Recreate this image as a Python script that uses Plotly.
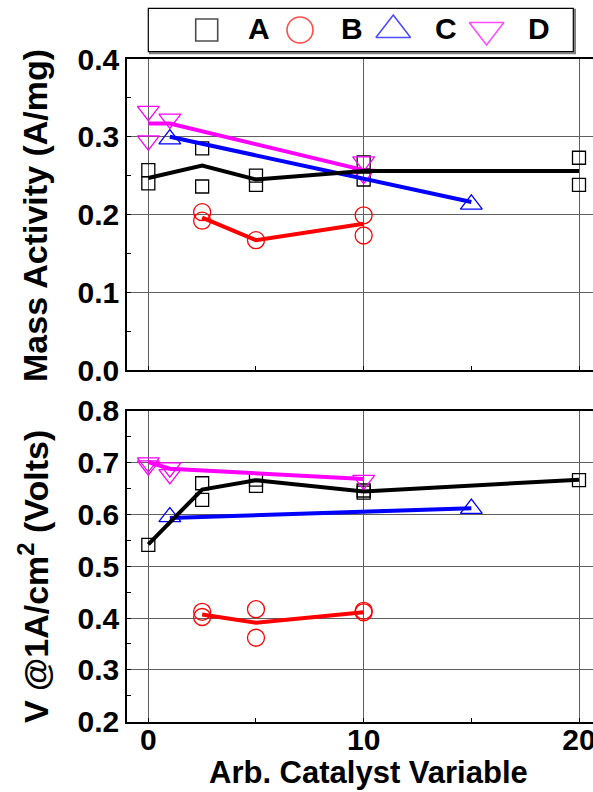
import plotly.graph_objects as go

# ---- series styling ----
series = ["A", "B", "C", "D"]
colors = ["#000000", "#ff0000", "#0000ff", "#ff00ff"]
symbols = ["square-open", "circle-open", "triangle-up-open", "triangle-down-open"]
plot_sizes = [13, 17, 19, 19]
legend_sizes = [22, 26, 30, 30]

# ---- Mass activity (A/mg): replicate points ----
ma_A_x = [0, 0, 2.5, 2.5, 5, 5, 10, 10, 20, 20]
ma_A_y = [0.257, 0.240, 0.285, 0.236, 0.250, 0.238, 0.267, 0.245, 0.273, 0.238]
ma_B_x = [2.5, 2.5, 5, 10, 10]
ma_B_y = [0.203, 0.192, 0.167, 0.199, 0.173]
ma_C_x = [1, 15]
ma_C_y = [0.297, 0.213]
ma_D_x = [0, 0, 1, 10, 10]
ma_D_y = [0.333, 0.295, 0.323, 0.268, 0.252]

# ---- Mass activity: mean trend lines ----
ma_A_line_x = [0, 2.5, 5, 10, 20]
ma_A_line_y = [0.247, 0.263, 0.245, 0.256, 0.256]
ma_B_line_x = [2.5, 5, 10]
ma_B_line_y = [0.196, 0.167, 0.188]
ma_C_line_x = [1, 15]
ma_C_line_y = [0.300, 0.216]
ma_D_line_x = [0, 1, 10]
ma_D_line_y = [0.317, 0.317, 0.257]

# ---- Cell voltage at 1 A/cm2 (V): replicate points ----
v_A_x = [0, 2.5, 2.5, 5, 5, 10, 10, 20]
v_A_y = [0.541, 0.660, 0.628, 0.667, 0.655, 0.646, 0.642, 0.666]
v_B_x = [2.5, 2.5, 5, 5, 10, 10]
v_B_y = [0.412, 0.402, 0.417, 0.362, 0.414, 0.411]
v_C_x = [1, 15]
v_C_y = [0.595, 0.611]
v_D_x = [0, 0, 1, 1, 10]
v_D_y = [0.700, 0.694, 0.690, 0.677, 0.666]

# ---- Cell voltage: mean trend lines ----
v_A_line_x = [0, 2.5, 5, 10, 20]
v_A_line_y = [0.542, 0.648, 0.666, 0.644, 0.667]
v_B_line_x = [2.5, 5, 10]
v_B_line_y = [0.407, 0.391, 0.411]
v_C_line_x = [1, 15]
v_C_line_y = [0.593, 0.612]
v_D_line_x = [0, 1, 10]
v_D_line_y = [0.701, 0.688, 0.668]

# ---- axis ticks ----
x_ticks = [0, 10, 20]
ma_ticks = [0.0, 0.1, 0.2, 0.3, 0.4]
v_ticks = [0.2, 0.3, 0.4, 0.5, 0.6, 0.7, 0.8]

FONT = "Liberation Sans, Arial, sans-serif"
W, H = 593, 792

panels = [
    ("x", "y",
     [(ma_A_x, ma_A_y), (ma_B_x, ma_B_y), (ma_C_x, ma_C_y), (ma_D_x, ma_D_y)],
     [(ma_A_line_x, ma_A_line_y), (ma_B_line_x, ma_B_line_y),
      (ma_C_line_x, ma_C_line_y), (ma_D_line_x, ma_D_line_y)]),
    ("x2", "y2",
     [(v_A_x, v_A_y), (v_B_x, v_B_y), (v_C_x, v_C_y), (v_D_x, v_D_y)],
     [(v_A_line_x, v_A_line_y), (v_B_line_x, v_B_line_y),
      (v_C_line_x, v_C_line_y), (v_D_line_x, v_D_line_y)]),
]

fig = go.Figure()

for xa, ya, pts, lines in panels:
    for i, (px, py) in enumerate(pts):
        fig.add_trace(go.Scatter(
            x=px, y=py, xaxis=xa, yaxis=ya, mode="markers", showlegend=False,
            marker=dict(symbol=symbols[i], size=plot_sizes[i], color=colors[i],
                        line=dict(width=1.3, color=colors[i])),
        ))
    for i in [3, 2, 1, 0]:
        lx, ly = lines[i]
        fig.add_trace(go.Scatter(
            x=lx, y=ly, xaxis=xa, yaxis=ya, mode="lines", showlegend=False,
            line=dict(color=colors[i], width=4),
        ))

# legend box drawn on its own hidden axes
fig.add_trace(go.Scatter(
    x=list(range(len(series))), y=[0.5] * len(series), xaxis="x3", yaxis="y3",
    mode="markers", showlegend=False, hoverinfo="skip",
    marker=dict(symbol=symbols, size=legend_sizes, color=colors,
                line=dict(width=1.6, color=colors)),
))

x_dom = [127 / W, 1.0]
x_range = [-0.99, 20.65]
grid = "#606060"

common_x = dict(range=x_range, domain=x_dom, showline=True, linecolor="black",
                linewidth=1.5, mirror=True, showgrid=True, gridcolor=grid,
                gridwidth=1, zeroline=False, tickvals=x_ticks, automargin=False,
                ticks="inside", ticklen=4, tickcolor="black",
                minor=dict(dtick=5, ticks="inside", ticklen=4, tickcolor="black",
                           showgrid=False),
                tickfont=dict(family=FONT, size=30, color="black", weight="bold"))

common_y = dict(showline=True, linecolor="black", linewidth=1.5, mirror=True,
                showgrid=True, gridcolor=grid, gridwidth=1, zeroline=False,
                automargin=False,
                ticks="inside", ticklen=4, tickcolor="black", tickformat=".1f",
                minor=dict(dtick=0.05, ticks="inside", ticklen=4, tickcolor="black",
                           showgrid=False),
                tickfont=dict(family=FONT, size=30, color="black", weight="bold"))

fig.update_layout(
    width=W, height=H,
    margin=dict(l=0, r=0, t=0, b=0, autoexpand=False),
    paper_bgcolor="white", plot_bgcolor="white",
    showlegend=False,
    xaxis=dict(common_x, anchor="y", showticklabels=False),
    yaxis=dict(common_y, anchor="x", range=[0, 0.4], tickvals=ma_ticks,
               domain=[1 - 370 / H, 1 - 59 / H]),
    xaxis2=dict(common_x, anchor="y2", ticklabeloverflow="allow",
                ticklabelstandoff=-9),
    yaxis2=dict(common_y, anchor="x2", range=[0.2, 0.8], tickvals=v_ticks,
                domain=[1 - 721.7 / H, 1 - 410.7 / H]),
    xaxis3=dict(domain=[148.3 / W, 573.3 / W], range=[-0.626, 3.93], visible=False,
                anchor="y3", fixedrange=True, automargin=False),
    yaxis3=dict(domain=[1 - 51.7 / H, 1 - 8.3 / H], range=[0, 1], visible=False,
                anchor="x3", fixedrange=True, automargin=False),
)

# legend frame with a soft grey drop shadow on its lower/right edges
fig.add_shape(type="rect", xref="x3 domain", yref="y3 domain",
              x0=0.004, x1=1.004, y0=-0.035, y1=0.965,
              line=dict(color="#808080", width=2), fillcolor="rgba(0,0,0,0)", layer="below")
fig.add_shape(type="rect", xref="x3 domain", yref="y3 domain", x0=0, x1=1, y0=0, y1=1,
              line=dict(color="black", width=1.2), fillcolor="white", layer="below")

for i, name in enumerate(series):
    fig.add_annotation(x=i + 0.56, y=0.53, xref="x3", yref="y3", text=name,
                       showarrow=False, xanchor="center", yanchor="middle",
                       font=dict(family=FONT, size=30, color="black", weight="bold"))

ytitle_font = dict(family=FONT, size=34, color="black", weight="bold")
xtitle_font = dict(family=FONT, size=31, color="black", weight="bold")
fig.add_annotation(x=35 / W, y=1 - 216 / H, xref="paper", yref="paper",
                   text="Mass Activity (A/mg)", textangle=-90, showarrow=False,
                   xanchor="center", yanchor="middle", font=ytitle_font)
fig.add_annotation(x=33 / W, y=1 - 577 / H, xref="paper", yref="paper",
                   text="V @1A/cm<sup>2</sup> (Volts)", textangle=-90, showarrow=False,
                   xanchor="center", yanchor="middle", font=ytitle_font)
fig.add_annotation(x=368 / W, y=1 - 772 / H, xref="paper", yref="paper",
                   text="Arb. Catalyst Variable", showarrow=False,
                   xanchor="center", yanchor="middle", font=xtitle_font)

fig.write_html("out.html")
